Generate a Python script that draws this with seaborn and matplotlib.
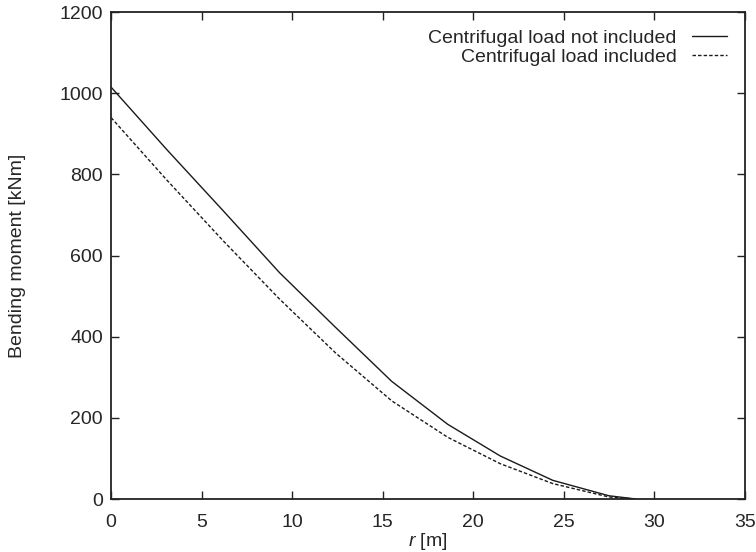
import numpy as np
import pandas as pd
import matplotlib
matplotlib.use("Agg")
import matplotlib.pyplot as plt
import seaborn as sns

# radial stations along the blade [m]
r_m = [0.0, 3.1, 6.2, 9.3, 12.4, 15.5, 18.6, 21.5, 24.4, 27.5, 29.0]
# bending moment [kNm]
moment_no_cf = [1015, 860, 710, 558, 423, 290, 184, 106, 46, 8, 0]
moment_cf = [940, 785, 636, 493, 360, 242, 152, 87, 38, 5, 0]
series_names = ["Centrifugal load not included", "Centrifugal load included"]

df = pd.DataFrame({
    "r": r_m * 2,
    "M": moment_no_cf + moment_cf,
    "case": [series_names[0]] * len(r_m) + [series_names[1]] * len(r_m),
})

sns.set_style("ticks")
plt.rcParams["font.family"] = ["Liberation Sans", "DejaVu Sans"]
plt.rcParams["mathtext.fontset"] = "custom"
plt.rcParams["mathtext.it"] = "Liberation Sans:italic"
plt.rcParams["xtick.direction"] = "in"
plt.rcParams["ytick.direction"] = "in"
plt.rcParams["xtick.top"] = True
plt.rcParams["ytick.right"] = True

fig = plt.figure(figsize=(7.56, 5.52), dpi=100)
ax = fig.add_axes([0.147, 0.096, 0.838, 0.882])

sns.lineplot(data=df, x="r", y="M", style="case", color="#1a1a1a",
             dashes={series_names[0]: "", series_names[1]: (2.5, 1.5)},
             linewidth=1.0, ax=ax)

ax.set_xlim(0, 35)
ax.set_ylim(0, 1200)
ax.set_xticks(np.arange(0, 36, 5))
ax.set_yticks(np.arange(0, 1201, 200))
ax.tick_params(labelsize=14, length=6, width=1.0, color="#222222", pad=6)
ax.tick_params(axis="x", pad=11)
ax.set_xlabel("$r$ [m]", fontsize=14, labelpad=0)
ax.set_ylabel("Bending moment [kNm]", fontsize=14, labelpad=24)
for s in ax.spines.values():
    s.set_linewidth(1.3)
    s.set_color("#222222")

ax.legend(loc="upper right", frameon=False, markerfirst=False, fontsize=14,
          handlelength=1.8, labelspacing=0.05, borderaxespad=0.5, title=None)

fig.savefig("out.png", dpi=100)
